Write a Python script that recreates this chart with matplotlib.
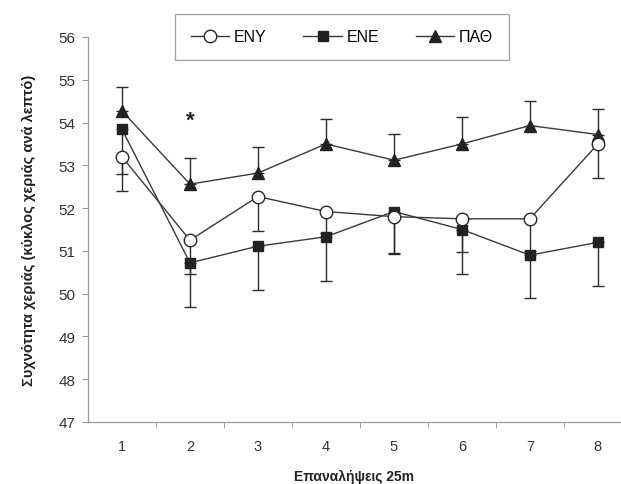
import numpy as np
import matplotlib.pyplot as plt

plt.rcParams['font.family'] = ['Liberation Sans', 'DejaVu Sans']

reps = [1, 2, 3, 4, 5, 6, 7, 8]

# mean stroke rate per group
eny = [53.2, 51.25, 52.27, 51.92, 51.8, 51.75, 51.75, 53.5]
ene = [53.84, 50.72, 51.11, 51.33, 51.92, 51.5, 50.9, 51.2]
path = [54.27, 52.56, 52.82, 53.5, 53.12, 53.5, 53.93, 53.72]

# standard deviations (one-sided bars)
eny_sd = [0.4, 0.8, 0.81, 0.5, 0.85, 0.77, 0.75, 0.8]
ene_sd = [1.44, 1.02, 1.02, 1.03, 1.0, 1.04, 1.0, 1.01]
path_sd = [0.57, 0.6, 0.6, 0.58, 0.62, 0.62, 0.58, 0.6]

star_x, star_y = 2, 54.05

fig = plt.figure(figsize=(6.21, 4.85), dpi=100)
ax = fig.add_axes([88 / 621, 62 / 485, 1 - 88 / 621, (423 - 38) / 485])

zero = np.zeros(len(reps))
line_col = '#3a3a3a'
err_kw = dict(ecolor='#2a2a2a', elinewidth=1.0, capsize=4, capthick=1.0, zorder=2)

ax.errorbar(reps, eny, yerr=[eny_sd, zero], fmt='none', **err_kw)
ax.errorbar(reps, ene, yerr=[ene_sd, zero], fmt='none', **err_kw)
ax.errorbar(reps, path, yerr=[zero, path_sd], fmt='none', **err_kw)

ax.plot(reps, eny, color=line_col, lw=1.0, marker='o', ms=9,
        mfc='white', mec='#2a2a2a', mew=1.0, label='ENY', zorder=4)
ax.plot(reps, ene, color=line_col, lw=1.0, marker='s', ms=7.5,
        mfc='#222222', mec='#222222', label='ENE', zorder=3)
ax.plot(reps, path, color=line_col, lw=1.0, marker='^', ms=9,
        mfc='#222222', mec='#222222', label='ΠΑΘ', zorder=3)

ax.text(star_x, star_y, '*', ha='center', va='center', fontsize=16,
        fontweight='bold', color='#222222')

ax.set_ylim(47, 56)
ax.set_yticks(range(47, 57))
ax.set_xlim(0.5, 8.34)
ax.set_xticks(reps)
ax.set_xticks([1.5, 2.5, 3.5, 4.5, 5.5, 6.5, 7.5], minor=True)
ax.tick_params(axis='x', which='major', length=0, pad=12, labelsize=10.5, labelcolor='#333333')
ax.tick_params(axis='x', which='minor', length=4, color='#999999')
ax.tick_params(axis='y', length=4, color='#999999', labelsize=11, labelcolor='#333333', pad=5)

for side in ['top', 'right']:
    ax.spines[side].set_visible(False)
for side in ['left', 'bottom']:
    ax.spines[side].set_color('#999999')
    ax.spines[side].set_linewidth(0.9)

ax.set_xlabel('Επαναλήψεις 25m', fontsize=10, fontweight='bold', color='#222222', labelpad=12)
ax.set_ylabel('Συχνότητα χεριάς (κύκλος χεριάς ανά λεπτό)', fontsize=10.5,
              fontweight='bold', color='#222222', labelpad=16)

leg = fig.legend(loc='center', bbox_to_anchor=(342 / 621, 1 - 38 / 485), ncol=3,
                 frameon=True, fancybox=False, fontsize=11.5, handlelength=2.4,
                 columnspacing=2.3, borderpad=1.0, handletextpad=0.3)
leg.get_frame().set_edgecolor('#888888')
leg.get_frame().set_linewidth(0.9)

fig.savefig('out.png', dpi=100)
